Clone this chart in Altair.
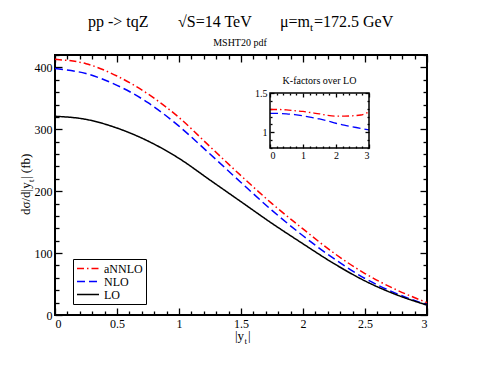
import altair as alt
import pandas as pd

# ---------------- data ----------------
x_vals = [0, 0.25, 0.5, 0.75, 1.0, 1.25, 1.5, 1.75, 2.0, 2.25, 2.5, 2.75, 3.0]
lo = [321, 316, 302, 281, 253, 218, 183, 148, 115, 83, 55, 33, 16]
nlo = [398, 390, 371, 343, 305, 260, 214, 169, 128, 91, 59, 35, 16.5]
annlo = [413, 406, 386, 357, 319, 272, 225, 180, 139, 100, 67, 41, 20]

k_x = [0, 0.25, 0.5, 0.75, 1.0, 1.25, 1.5, 1.75, 2.0, 2.25, 2.5, 2.75, 3.0]
k_nlo = [1.24, 1.24, 1.235, 1.225, 1.21, 1.19, 1.17, 1.145, 1.115, 1.09, 1.07, 1.05, 1.03]
k_annlo = [1.29, 1.29, 1.285, 1.275, 1.265, 1.25, 1.235, 1.215, 1.205, 1.205, 1.21, 1.22, 1.26]

series_names = ["aNNLO", "NLO", "LO"]
series_colors = ["#ff0000", "#0000ff", "#000000"]
series_dashes = [[7, 3, 1.5, 3], [8, 4], [1, 0]]

x_major = [0, 0.5, 1, 1.5, 2, 2.5, 3]
x_minor = [0.1, 0.2, 0.3, 0.4, 0.6, 0.7, 0.8, 0.9, 1.1, 1.2, 1.3, 1.4, 1.6, 1.7, 1.8, 1.9,
           2.1, 2.2, 2.3, 2.4, 2.6, 2.7, 2.8, 2.9]
y_major = [0, 100, 200, 300, 400]
y_minor = [20, 40, 60, 80, 120, 140, 160, 180, 220, 240, 260, 280, 320, 340, 360, 380, 420]
kx_major = [0, 1, 2, 3]
kx_minor = [0.2, 0.4, 0.6, 0.8, 1.2, 1.4, 1.6, 1.8, 2.2, 2.4, 2.6, 2.8]
ky_major = [1, 1.5]
ky_minor = [0.8, 0.9, 1.1, 1.2, 1.3, 1.4]

SERIF = "Liberation Serif"
W, H = 372, 260

main_df = pd.DataFrame({
    "x": x_vals * 3,
    "y": annlo + nlo + lo,
    "series": ["aNNLO"] * len(x_vals) + ["NLO"] * len(x_vals) + ["LO"] * len(x_vals),
})
k_df = pd.DataFrame({
    "x": k_x * 2,
    "k": k_annlo + k_nlo,
    "series": ["aNNLO"] * len(k_x) + ["NLO"] * len(k_x),
})
frame_df = pd.DataFrame({"x0": [0], "x1": [3], "y0": [0.8], "y1": [1.5]})


def ax(orient, values, size, labels, offset, fs=12, pad=3, fmt="~f"):
    return alt.Axis(orient=orient, values=values, tickSize=size, offset=offset,
                    labels=labels, domain=False, grid=False, title=None,
                    tickColor="black", tickWidth=1.3, labelFont=SERIF,
                    labelFontSize=fs, labelColor="black", format=fmt,
                    labelPadding=pad)


leg = alt.Legend(orient="none", legendX=18, legendY=204, title=None,
                 symbolType="stroke", symbolSize=484, symbolStrokeWidth=1.5,
                 labelFont=SERIF, labelFontSize=12, labelColor="black",
                 strokeColor="black", padding=3, rowPadding=0, clipHeight=13,
                 fillColor="white", labelOffset=4)
color = alt.Color("series:N", scale=alt.Scale(domain=series_names, range=series_colors), legend=leg)
dash = alt.StrokeDash("series:N", scale=alt.Scale(domain=series_names, range=series_dashes), legend=leg)

xs = alt.Scale(domain=[0, 3], nice=False, zero=False)
ys = alt.Scale(domain=[0, 420], nice=False, zero=False)

lines = alt.Chart(main_df).mark_line(strokeWidth=1.5, interpolate="monotone").encode(
    x=alt.X("x:Q", scale=xs, axis=ax("bottom", x_major, 7, True, -7, pad=3)),
    y=alt.Y("y:Q", scale=ys, axis=ax("left", y_major, 7, True, -7, pad=3, fmt="d")),
    color=color, strokeDash=dash,
)
minor1 = alt.Chart(main_df).mark_point(opacity=0).encode(
    x=alt.X("x:Q", scale=xs, axis=ax("bottom", x_minor, 4, False, -4)),
    y=alt.Y("y:Q", scale=ys, axis=ax("left", y_minor, 4, False, -4)),
)
major2 = alt.Chart(main_df).mark_point(opacity=0).encode(
    x=alt.X("x:Q", scale=xs, axis=ax("top", x_major, 7, False, -7)),
    y=alt.Y("y:Q", scale=ys, axis=ax("right", y_major, 7, False, -7)),
)
minor2 = alt.Chart(main_df).mark_point(opacity=0).encode(
    x=alt.X("x:Q", scale=xs, axis=ax("top", x_minor, 4, False, -4)),
    y=alt.Y("y:Q", scale=ys, axis=ax("right", y_minor, 4, False, -4)),
)


def txt(s, x, y, size, align="left", angle=0):
    return alt.Chart(pd.DataFrame({"t": [s]})).mark_text(
        font=SERIF, fontSize=size, align=align, baseline="alphabetic",
        angle=angle, color="black"
    ).encode(text="t:N", x=alt.value(x), y=alt.value(y))


texts = [
    txt("pp -> tqZ", 33, -28, 16),
    txt("\u221aS=14 TeV", 123, -28, 16),
    txt("\u03bc=m", 225, -28, 16),
    txt("t", 255, -24, 11),
    txt("=172.5 GeV", 259, -28, 16),
    txt("MSHT20 pdf", 185, -9, 10, align="center"),
    txt("|y", 180, 285, 13),
    txt("t", 189.5, 289, 9),
    txt("|", 193, 285, 13),
    txt("d\u03c3/d|y", -25, 160, 13, angle=270),
    txt("t", -21, 127, 9, angle=270),
    txt("| (fb)", -25, 124, 13, angle=270),
]

main = alt.layer(lines, minor1, major2, minor2, *texts).resolve_axis(
    x="independent", y="independent")

# ---------------- inset ----------------
L, R, T, B = 215, 314, 38, 93
kxs = alt.Scale(domain=[0, 3], range=[L, R], nice=False, zero=False)
kys = alt.Scale(domain=[0.8, 1.5], range=[B, T], nice=False, zero=False)

klines = alt.Chart(k_df).mark_line(strokeWidth=1.3, interpolate="monotone").encode(
    x=alt.X("x:Q", scale=kxs, axis=ax("bottom", kx_major, 4, True, -(H - B + 4), fs=10, pad=2, fmt="d")),
    y=alt.Y("k:Q", scale=kys, axis=ax("left", ky_major, 4, True, -(L + 4), fs=10, pad=3)),
    color=color, strokeDash=dash,
)
kminor1 = alt.Chart(k_df).mark_point(opacity=0).encode(
    x=alt.X("x:Q", scale=kxs, axis=ax("bottom", kx_minor, 2, False, -(H - B + 2))),
    y=alt.Y("k:Q", scale=kys, axis=ax("left", ky_minor, 2, False, -(L + 2))),
)
kmajor2 = alt.Chart(k_df).mark_point(opacity=0).encode(
    x=alt.X("x:Q", scale=kxs, axis=ax("top", kx_major, 4, False, -(T + 4))),
    y=alt.Y("k:Q", scale=kys, axis=ax("right", ky_major, 4, False, -(W - R + 4))),
)
kminor2 = alt.Chart(k_df).mark_point(opacity=0).encode(
    x=alt.X("x:Q", scale=kxs, axis=ax("top", kx_minor, 2, False, -(T + 2))),
    y=alt.Y("k:Q", scale=kys, axis=ax("right", ky_minor, 2, False, -(W - R + 2))),
)
kframe = alt.Chart(frame_df).mark_rect(fillOpacity=0, stroke="black", strokeWidth=1.5).encode(
    x=alt.X("x0:Q", scale=kxs, axis=None), x2="x1:Q",
    y=alt.Y("y0:Q", scale=kys, axis=None), y2="y1:Q",
)
ktitle = txt("K-factors over LO", (L + R) / 2, 29, 10, align="center")

inset = alt.layer(klines, kminor1, kmajor2, kminor2, kframe, ktitle).resolve_axis(
    x="independent", y="independent")

chart = alt.layer(main, inset).resolve_scale(
    x="independent", y="independent"
).resolve_axis(
    x="independent", y="independent"
).properties(
    width=W, height=H,
    autosize=alt.AutoSizeParams(type="none"),
    padding={"left": 47, "top": 47, "right": 45, "bottom": 48},
    background="white",
).configure_view(
    stroke="black", strokeWidth=2
).configure_axis(
    labelFont=SERIF
).configure_legend(
    labelFont=SERIF
)

chart.save("out.html", embed_options={"renderer": "svg", "actions": False})
